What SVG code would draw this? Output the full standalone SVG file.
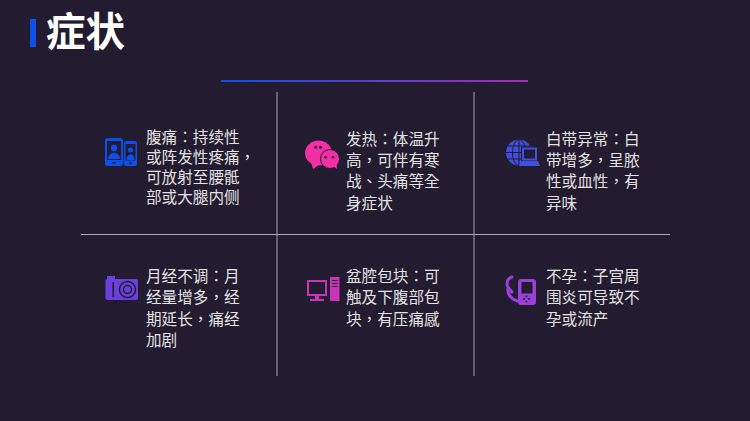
<svg xmlns="http://www.w3.org/2000/svg" width="750" height="421" viewBox="0 0 750 421">
<style>
text{font-family:"Noto Sans CJK TC","Noto Sans CJK SC",sans-serif}
.t{font-size:15.6px;fill:#e2e2e2}
.g{stroke:#a9a7b0;stroke-width:1;fill:none}
</style>
<defs>
<linearGradient id="lg" x1="0" x2="1" y1="0" y2="0"><stop offset="0" stop-color="#0f4fe8"/><stop offset="1" stop-color="#a52fb8"/></linearGradient>
</defs>
<rect width="750" height="421" fill="#231b2f"/>
<g id="title">
<rect x="30" y="19" width="6" height="28" fill="#0b50ea"/>
<text x="46" y="46" font-size="39.500" font-weight="700" fill="#ffffff">症状</text>
</g>
<rect id="rule" x="221" y="80" width="307" height="2" fill="url(#lg)"/>
<g id="connectors">
<path class="g" d="M277 92V376M474 92V376M81 234.500H670"/>
</g>
<g id="node-1">
<rect x="105" y="138" width="18" height="28" rx="3" fill="#0b50ea"/>
<rect x="107" y="141" width="14" height="19" fill="#231b2f"/>
<rect x="112" y="162" width="4" height="1.500" fill="#231b2f"/>
<circle cx="114" cy="148" r="3.200" fill="#0b50ea"/><path d="M108 159c0-4 2.500-6 6-6s6 2 6 6z" fill="#0b50ea"/>
<rect x="124" y="141" width="13" height="25" rx="2.500" fill="#0b50ea"/>
<rect x="125.500" y="144" width="10" height="16.500" fill="#231b2f"/>
<rect x="129" y="162.500" width="3" height="1.500" fill="#231b2f"/>
<circle cx="130.500" cy="150" r="2.500" fill="#0b50ea"/><path d="M126.500 160c0-3.500 1.500-5.500 4-5.500s4 2 4 5.500z" fill="#0b50ea"/>
<text class="t" x="146" y="143">腹痛：持续性</text>
<text class="t" x="146" y="163">或阵发性疼痛，</text>
<text class="t" x="146" y="183">可放射至腰骶</text>
<text class="t" x="146" y="203">部或大腿内侧</text>
</g>
<g id="node-2">
<ellipse cx="318.500" cy="153" rx="13.500" ry="12.500" fill="#f32fa5"/>
<path fill="#f32fa5" d="M311 162l2 7 7-5z"/>
<circle cx="330" cy="159" r="9.500" fill="#f32fa5" stroke="#231b2f" stroke-width="1"/>
<path fill="#f32fa5" d="M332 165l5 4-1-7z"/>
<circle cx="315.700" cy="147.300" r="1.500" fill="#231b2f"/><circle cx="320.500" cy="147.300" r="1.500" fill="#231b2f"/>
<circle cx="325.700" cy="157.300" r="1.300" fill="#231b2f"/><circle cx="333" cy="157.300" r="1.300" fill="#231b2f"/>
<text class="t" x="346" y="144.500">发热：体温升</text>
<text class="t" x="346" y="165.500">高，可伴有寒</text>
<text class="t" x="346" y="187">战、头痛等全</text>
<text class="t" x="346" y="208.500">身症状</text>
</g>
<g id="node-3">
<circle cx="519" cy="152.500" r="13" fill="#4150dc"/>
<g fill="none" stroke="#231b2f" stroke-width="1"><ellipse cx="519" cy="152.500" rx="6.500" ry="13"/><path d="M519 139.500v26M506 152.500h26M508 146h22M508 159h22"/></g>
<path fill="#4150dc" stroke="#231b2f" d="M521.500 147h16v14h-16z"/>
<rect x="524" y="149.500" width="11" height="9" fill="#231b2f"/>
<path fill="#4150dc" d="M521 161h17l2 5h-21z"/>
<text class="t" x="546" y="144.500">白带异常：白</text>
<text class="t" x="546" y="165.500">带增多，呈脓</text>
<text class="t" x="546" y="187">性或血性，有</text>
<text class="t" x="546" y="208.500">异味</text>
</g>
<g id="node-4">
<rect x="107" y="276" width="8" height="4" fill="#6a3fdc"/>
<rect x="105.500" y="279" width="32.500" height="21" rx="2" fill="#6a3fdc"/>
<rect x="112.500" y="282" width="1.500" height="15" fill="#231b2f"/>
<circle cx="127.500" cy="289.500" r="8" fill="none" stroke="#231b2f" stroke-width="1.500"/>
<circle cx="127.500" cy="289.500" r="4" fill="none" stroke="#231b2f" stroke-width="1.500"/>
<text class="t" x="146" y="281.500">月经不调：月</text>
<text class="t" x="146" y="303">经量增多，经</text>
<text class="t" x="146" y="324.500">期延长，痛经</text>
<text class="t" x="146" y="346">加剧</text>
</g>
<g id="node-5">
<path fill="#c833b8" fill-rule="evenodd" d="M307 280h20v16h-20zM309 282v12h16v-12z"/>
<path fill="#c833b8" d="M315 296h4v3h5v2h-14v-2h5z"/>
<path fill="#c833b8" fill-rule="evenodd" d="M330 277h9.500v24h-9.500zM332 280v1h5.500v-1zM332 283v1h5.500v-1zM332 286v1h5.500v-1z"/>
<text class="t" x="346" y="281.500">盆腔包块：可</text>
<text class="t" x="346" y="303">触及下腹部包</text>
<text class="t" x="346" y="324.500">块，有压痛感</text>
</g>
<g id="node-6">
<path fill="none" stroke="#9a3fd8" stroke-width="3" stroke-linecap="round" d="M512 277c-3 1-5 4-5 7 0 4 3 5 5 8M508 288c-1 6 3 11 9 13"/>
<rect x="518" y="279" width="18" height="26" rx="3" fill="#9a3fd8"/>
<rect x="521.500" y="282" width="11" height="11.500" fill="#231b2f"/>
<g fill="#231b2f"><circle cx="526.500" cy="296.500" r="1"/><circle cx="526.500" cy="301.500" r="1"/><circle cx="524" cy="299" r="1"/><circle cx="529" cy="299" r="1"/></g>
<text class="t" x="546" y="281.500">不孕：子宫周</text>
<text class="t" x="546" y="303">围炎可导致不</text>
<text class="t" x="546" y="324.500">孕或流产</text>
</g>
</svg>
